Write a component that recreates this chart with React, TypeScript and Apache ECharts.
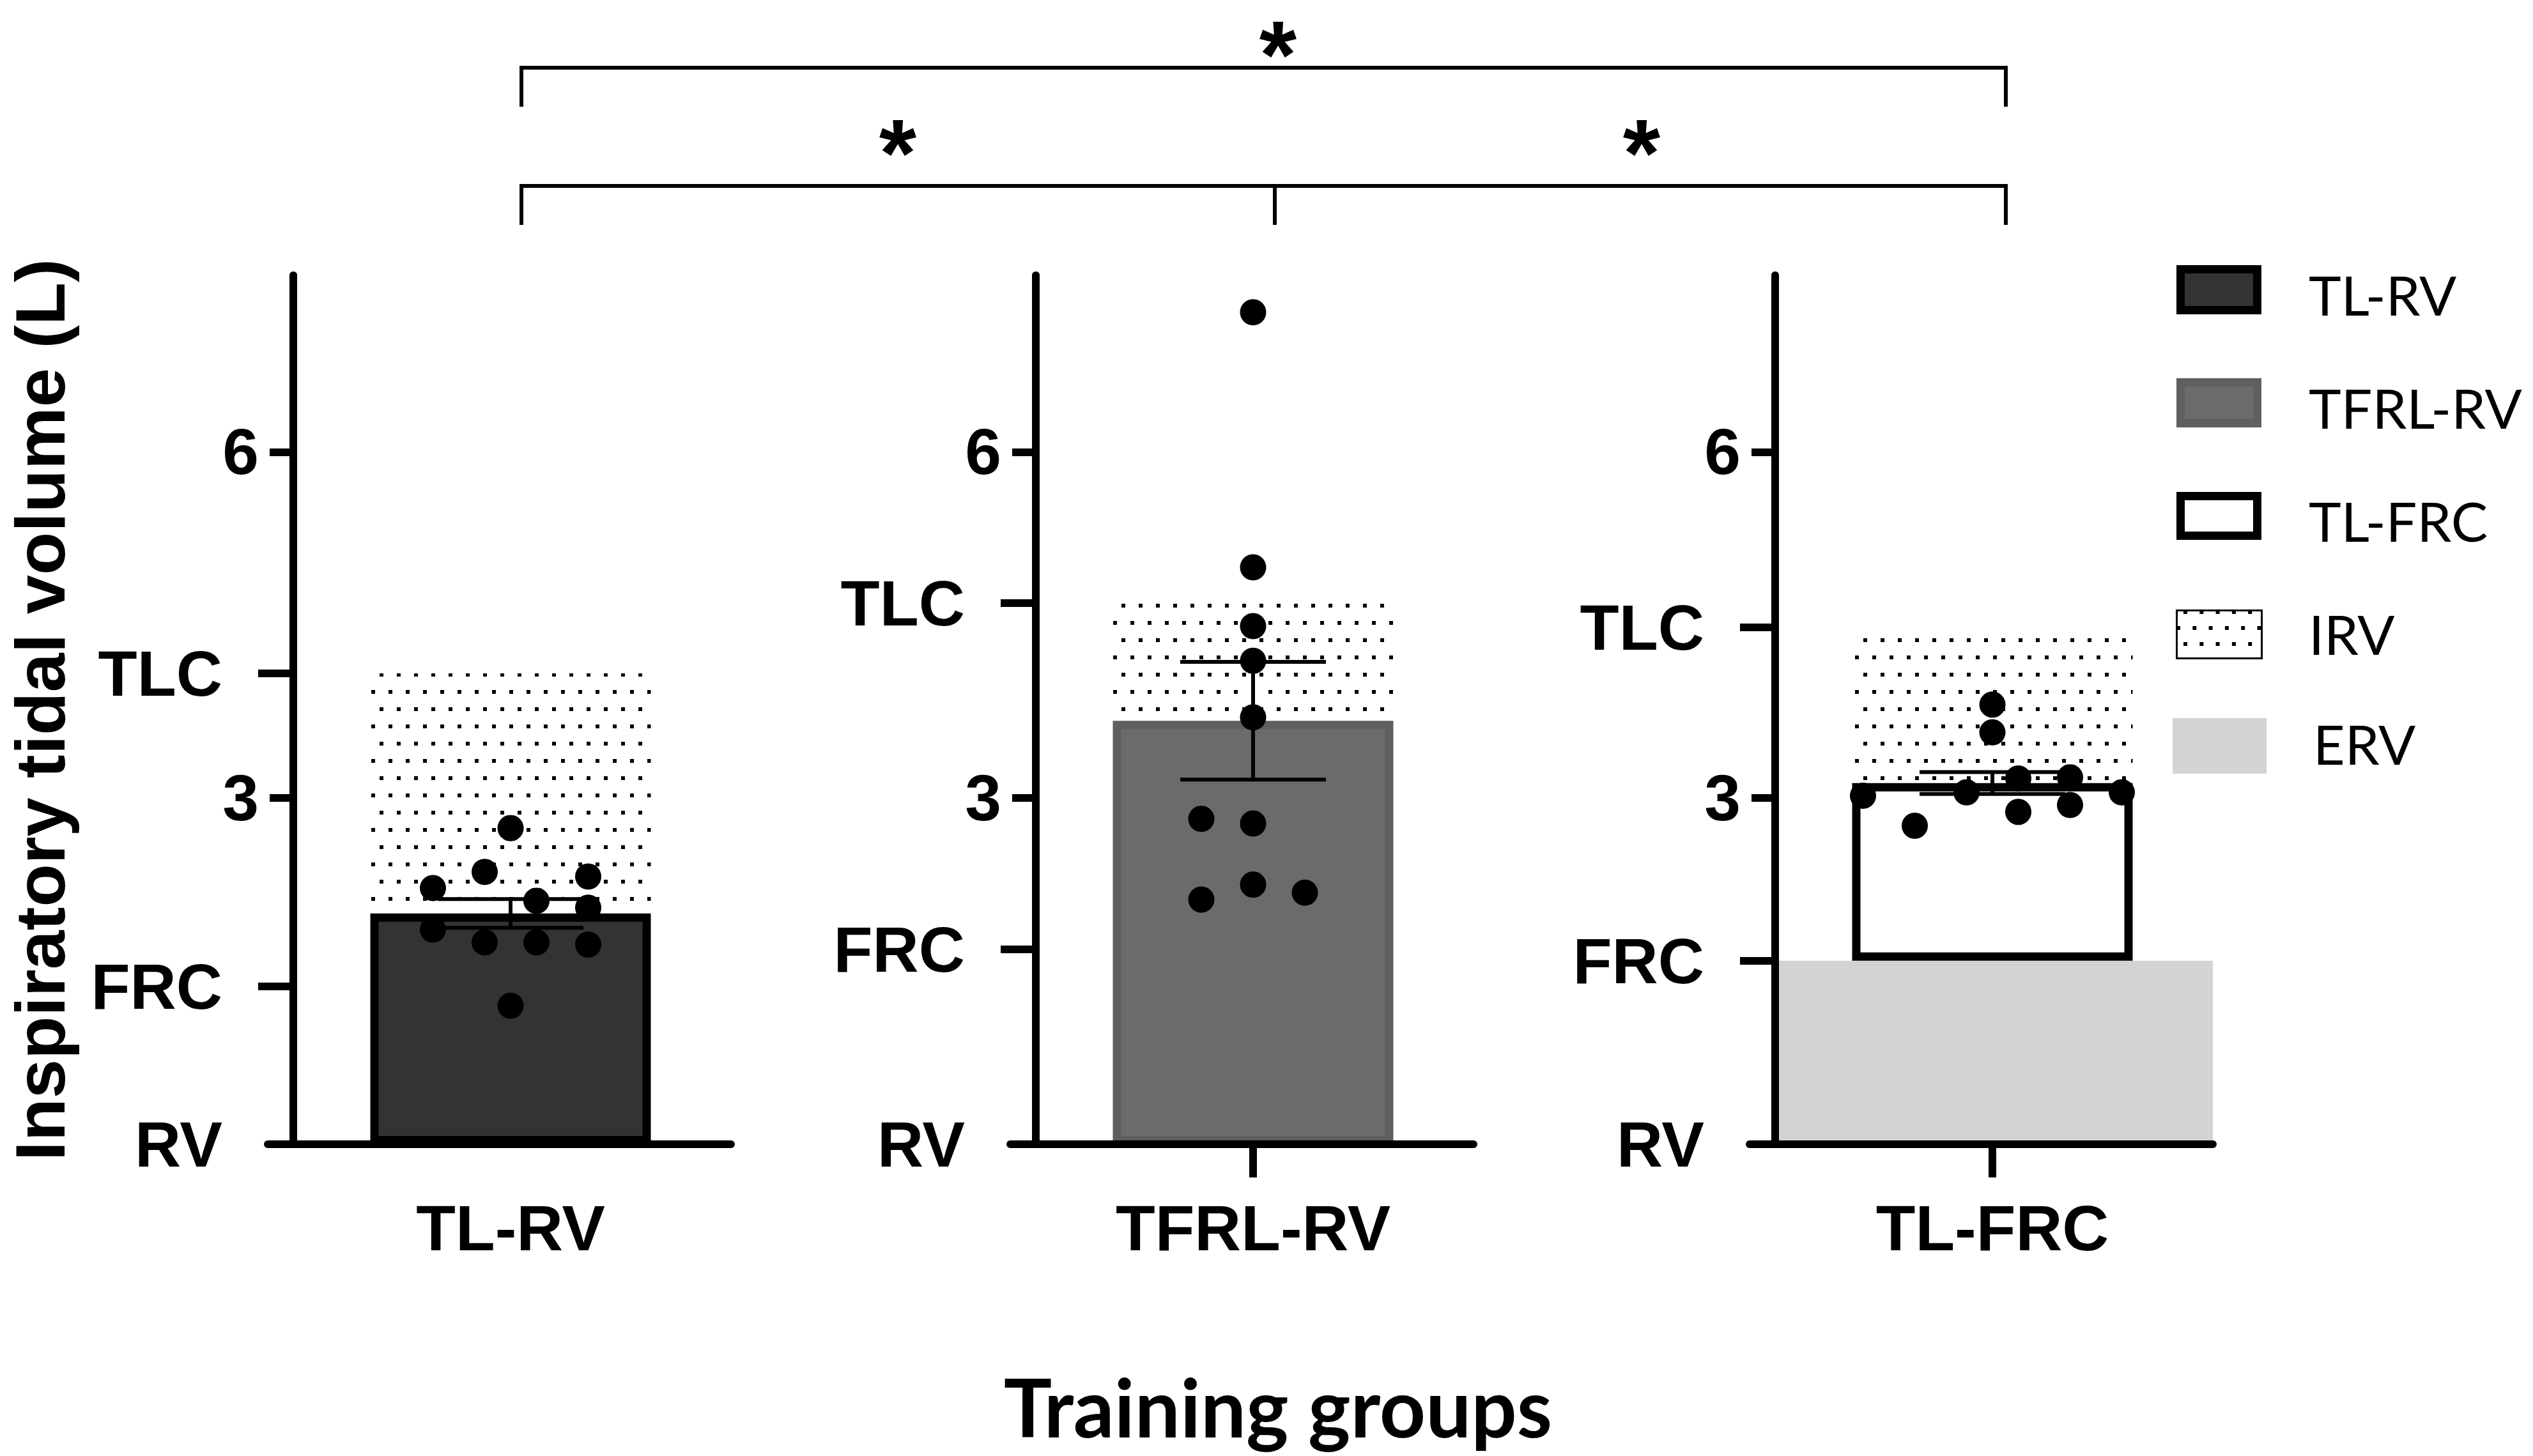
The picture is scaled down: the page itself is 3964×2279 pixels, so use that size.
import React, { useEffect, useRef } from 'react';
import * as echarts from 'echarts';

// ---------- data ----------
const groups = ['TL-RV', 'TFRL-RV', 'TL-FRC'];
const meanValues = [2.0, 3.67, 3.13];
const semValues = [0.125, 0.51, 0.095];
const tlcValues = [4.08, 4.69, 4.48];
const frcValues = [1.37, 1.69, 1.59];
const barStartValues = [0, 0, 1.59]; // TL-FRC bar floats from FRC
const pointsTLRV = [2.74, 2.36, 2.22, 2.32, 2.11, 2.05, 1.86, 1.75, 1.75, 1.73, 1.2];
const jitterTLRV = [0, -1, -3, 3, 1, 3, -3, -1, 1, 3, 0];
const pointsTFRLRV = [7.21, 5.0, 4.49, 4.19, 3.7, 2.82, 2.78, 2.25, 2.12, 2.18];
const jitterTFRLRV = [0, 0, 0, 0, 0, -2, 0, 0, -2, 2];
const pointsTLFRC = [3.81, 3.57, 3.02, 2.76, 3.05, 3.17, 2.88, 3.18, 2.94, 3.05];
const jitterTLFRC = [0, 0, -5, -3, -1, 1, 1, 3, 3, 5];
const numericTicks = [3, 6];
const volumeNames = ['RV', 'FRC', 'TLC'];
const legendNames = ['TL-RV', 'TFRL-RV', 'TL-FRC', 'IRV', 'ERV'];
const significance = ['*', '*', '*'];

const allPoints = [pointsTLRV, pointsTFRLRV, pointsTLFRC];
const allJitter = [jitterTLRV, jitterTFRLRV, jitterTLFRC];

// ---------- layout / style ----------
const W = 3964;
const H = 2279;
const AXIS_X = [459, 1621, 2778];
const PLOT_TOP = 431;
const BASE_Y = 1791;
const Y_MAX = 7.53;
const X_MIN = -40;
const X_MAX = 685;
const BAR_CENTER = 340;
const BAR_WIDTH = 439;
const BAR_GRID_W = 600;
const JITTER_STEP = 40.5;
const CAP_HALF = 114;
const ARIAL = '"Liberation Sans", Arial, sans-serif';
const CALIBRI = 'Lato, "Open Sans", sans-serif';

const barFill = ['#333333', '#6b6b6b', '#ffffff'];
const barBorder = ['#000000', '#5f5f5f', '#000000'];
const ervColor = '#d3d3d3';

const irvDecal = {
  symbol: 'rect',
  symbolSize: 1,
  color: '#000000',
  backgroundColor: 'rgba(0,0,0,0)',
  dashArrayX: [[6, 21], [0, 14, 6, 7]],
  dashArrayY: [6, 21],
  rotation: 0,
};

function buildOption() {
  const grid: any[] = [];
  const xAxis: any[] = [];
  const yAxis: any[] = [];
  const series: any[] = [];

  groups.forEach((g, p) => {
    // ---- main grid: axes, points, error bars, ERV band ----
    const gMain = grid.length;
    grid.push({
      left: AXIS_X[p] + X_MIN,
      top: PLOT_TOP,
      width: X_MAX - X_MIN,
      height: BASE_Y - PLOT_TOP,
      containLabel: false,
    });
    const xMain = xAxis.length;
    xAxis.push({
      type: 'value',
      gridIndex: gMain,
      min: X_MIN,
      max: X_MAX,
      z: 6,
      axisLine: { show: true, onZero: true, lineStyle: { color: '#000', width: 12 } },
      axisTick: {
        show: p > 0,
        customValues: [BAR_CENTER],
        length: 52,
        lineStyle: { color: '#000', width: 12 },
      },
      axisLabel: {
        show: true,
        customValues: [BAR_CENTER],
        formatter: () => g,
        margin: 131,
        verticalAlign: 'middle',
        fontSize: 101,
        fontWeight: 'bold',
        fontFamily: ARIAL,
        color: '#000',
      },
      splitLine: { show: false },
    });
    const xBand = xAxis.length;
    xAxis.push({
      type: 'value',
      gridIndex: gMain,
      min: X_MIN,
      max: X_MAX,
      show: false,
      axisLine: { onZero: false },
      splitLine: { show: false },
    });
    const yMain = yAxis.length;
    yAxis.push({
      type: 'value',
      gridIndex: gMain,
      min: 0,
      max: Y_MAX,
      position: 'left',
      z: 6,
      axisLine: { show: true, onZero: true, onZeroAxisIndex: xMain, lineStyle: { color: '#000', width: 12 } },
      axisTick: { show: true, customValues: numericTicks, length: 37, lineStyle: { color: '#000', width: 12 } },
      axisLabel: {
        show: true,
        customValues: numericTicks,
        margin: 14,
        fontSize: 102,
        fontWeight: 'bold',
        fontFamily: ARIAL,
        color: '#000',
      },
      splitLine: { show: false },
    });
    const volVals = [0, frcValues[p], tlcValues[p]];
    yAxis.push({
      type: 'value',
      gridIndex: gMain,
      min: 0,
      max: Y_MAX,
      position: 'left',
      z: 6,
      axisLine: { show: true, onZero: true, onZeroAxisIndex: xMain, lineStyle: { color: '#000', width: 12 } },
      axisTick: {
        show: true,
        customValues: [frcValues[p], tlcValues[p]],
        length: 55,
        lineStyle: { color: '#000', width: 12 },
      },
      axisLabel: {
        show: true,
        customValues: volVals,
        formatter: (v: number) => {
          let best = 0;
          volVals.forEach((vv, i) => {
            if (Math.abs(vv - v) < Math.abs(volVals[best] - v)) best = i;
          });
          return volumeNames[best];
        },
        margin: 71,
        fontSize: 100,
        fontWeight: 'bold',
        fontFamily: ARIAL,
        color: '#000',
      },
      splitLine: { show: false },
    });

    // ---- bar grid: one category centred on the bar ----
    const gBar = grid.length;
    grid.push({
      left: AXIS_X[p] + BAR_CENTER - BAR_GRID_W / 2,
      top: PLOT_TOP,
      width: BAR_GRID_W,
      height: BASE_Y - PLOT_TOP,
      containLabel: false,
    });
    const xCat = xAxis.length;
    xAxis.push({ type: 'category', gridIndex: gBar, data: [g], show: false });
    const yBar = yAxis.length;
    yAxis.push({ type: 'value', gridIndex: gBar, min: 0, max: Y_MAX, show: false, splitLine: { show: false } });

    const stack = 'stack' + p;
    if (barStartValues[p] > 0) {
      series.push({
        type: 'bar',
        name: 'base' + p,
        xAxisIndex: xCat,
        yAxisIndex: yBar,
        stack,
        barWidth: BAR_WIDTH,
        silent: true,
        data: [barStartValues[p]],
        itemStyle: { color: 'rgba(0,0,0,0)' },
        z: 2,
      });
    }
    series.push({
      type: 'bar',
      name: g,
      xAxisIndex: xCat,
      yAxisIndex: yBar,
      stack,
      barWidth: BAR_WIDTH,
      data: [meanValues[p] - barStartValues[p]],
      itemStyle: { color: barFill[p], borderColor: barBorder[p], borderWidth: 13 },
      z: 3,
    });
    series.push({
      type: 'bar',
      name: 'IRV',
      xAxisIndex: xCat,
      yAxisIndex: yBar,
      stack,
      barWidth: BAR_WIDTH,
      data: [tlcValues[p] - meanValues[p]],
      itemStyle: { color: 'rgba(255,255,255,0)', decal: irvDecal },
      z: 2,
    });
    if (p === 2) {
      series.push({
        type: 'bar',
        name: 'ERV',
        xAxisIndex: xBand,
        yAxisIndex: yMain,
        barWidth: X_MAX,
        data: [[X_MAX / 2, frcValues[p]]],
        itemStyle: { color: ervColor },
        z: 1,
      });
    }
    series.push({
      type: 'custom',
      name: 'sem' + p,
      xAxisIndex: xMain,
      yAxisIndex: yMain,
      z: 4,
      data: [[BAR_CENTER, meanValues[p], semValues[p]]],
      renderItem: (params: any, api: any) => {
        const x = api.value(0);
        const m = api.value(1);
        const s = api.value(2);
        const top = api.coord([x, m + s]);
        const bot = api.coord([x, m - s]);
        const l = api.coord([x - CAP_HALF, m]);
        const r = api.coord([x + CAP_HALF, m]);
        const st = { stroke: '#000', lineWidth: 6 };
        return {
          type: 'group',
          children: [
            { type: 'line', shape: { x1: top[0], y1: top[1], x2: bot[0], y2: bot[1] }, style: st },
            { type: 'line', shape: { x1: l[0], y1: top[1], x2: r[0], y2: top[1] }, style: st },
            { type: 'line', shape: { x1: l[0], y1: bot[1], x2: r[0], y2: bot[1] }, style: st },
          ],
        };
      },
    });
    series.push({
      type: 'scatter',
      name: 'points' + p,
      xAxisIndex: xMain,
      yAxisIndex: yMain,
      symbol: 'circle',
      symbolSize: 41,
      itemStyle: { color: '#000', opacity: 1 },
      z: 5,
      data: allPoints[p].map((v, i) => [BAR_CENTER + allJitter[p][i] * JITTER_STEP, v]),
    });
  });

  // ---------- annotations: brackets, stars, titles, legend ----------
  const lineStyle = { stroke: '#000', lineWidth: 6 };
  const bL = 816;
  const bM = 1995;
  const bR = 3139;
  const graphic: any[] = [
    { type: 'line', shape: { x1: bL, y1: 106, x2: bR, y2: 106 }, style: lineStyle },
    { type: 'line', shape: { x1: bL, y1: 103, x2: bL, y2: 167 }, style: lineStyle },
    { type: 'line', shape: { x1: bR, y1: 103, x2: bR, y2: 167 }, style: lineStyle },
    { type: 'line', shape: { x1: bL, y1: 291, x2: bR, y2: 291 }, style: lineStyle },
    { type: 'line', shape: { x1: bL, y1: 288, x2: bL, y2: 352 }, style: lineStyle },
    { type: 'line', shape: { x1: bM, y1: 288, x2: bM, y2: 352 }, style: lineStyle },
    { type: 'line', shape: { x1: bR, y1: 288, x2: bR, y2: 352 }, style: lineStyle },
  ];
  const starPos = [
    [2000, 86],
    [1405, 240],
    [2569, 240],
  ];
  starPos.forEach((sp, i) => {
    graphic.push({
      type: 'text',
      x: sp[0],
      y: sp[1],
      style: {
        text: significance[i],
        fontSize: 150,
        lineHeight: 100,
        fontWeight: 'bold',
        fontFamily: ARIAL,
        fill: '#000',
        align: 'center',
        verticalAlign: 'middle',
      },
    });
  });
  graphic.push({
    type: 'text',
    x: 62,
    y: 1111,
    rotation: Math.PI / 2,
    style: {
      text: 'Inspiratory tidal volume (L)',
      fontSize: 110,
      lineHeight: 110,
      fontWeight: 'bold',
      fontFamily: ARIAL,
      fill: '#000',
      align: 'center',
      verticalAlign: 'middle',
    },
  });
  graphic.push({
    type: 'text',
    x: 2000,
    y: 2201,
    style: {
      text: 'Training groups',
      fontSize: 126,
      fontWeight: 'bold',
      fontFamily: CALIBRI,
      fill: '#000',
      align: 'center',
      verticalAlign: 'middle',
    },
  });

  // legend swatches
  const sw = [
    { x: 3406, y: 415, w: 133, h: 77, fill: barFill[0], stroke: barBorder[0], lw: 13 },
    { x: 3406, y: 592, w: 133, h: 77, fill: barFill[1], stroke: barBorder[1], lw: 13 },
    { x: 3406, y: 770, w: 133, h: 75, fill: barFill[2], stroke: barBorder[2], lw: 13 },
    { x: 3405, y: 954, w: 136, h: 78, fill: '#ffffff', stroke: '#000000', lw: 3 },
    { x: 3400, y: 1124, w: 147, h: 87, fill: ervColor, stroke: null, lw: 0 },
  ];
  const legendTextY = [460, 637, 814, 991, 1163];
  sw.forEach((s, i) => {
    graphic.push({
      type: 'rect',
      shape: { x: s.x + s.lw / 2, y: s.y + s.lw / 2, width: s.w - s.lw, height: s.h - s.lw },
      style: { fill: s.fill, stroke: s.stroke || 'none', lineWidth: s.lw },
    });
    graphic.push({
      type: 'text',
      x: i === 4 ? 3620 : 3613,
      y: legendTextY[i],
      style: {
        text: legendNames[i],
        fontSize: 86,
        fontFamily: CALIBRI,
        fill: '#000',
        align: 'left',
        verticalAlign: 'middle',
      },
    });
  });
  // dotted pattern inside the IRV legend swatch
  const irv = sw[3];
  for (let r = 0; r < 3; r++) {
    const cy = irv.y + 4 + r * 25;
    for (let cx = r % 2 === 0 ? irv.x + 15 : irv.x + 4; cx < irv.x + irv.w - 5; cx += 25.3) {
      graphic.push({
        type: 'rect',
        shape: { x: cx - 3, y: cy - 3, width: 6, height: 6 },
        style: { fill: '#000' },
      });
    }
  }

  return {
    animation: false,
    backgroundColor: '#ffffff',
    grid,
    xAxis,
    yAxis,
    series,
    graphic,
  };
}

export default function App() {
  const ref = useRef<HTMLDivElement>(null);
  useEffect(() => {
    document.body.style.margin = '0';
    if (!ref.current) return;
    const chart = echarts.init(ref.current, null, { renderer: 'svg' });
    chart.setOption(buildOption() as any);
    return () => chart.dispose();
  }, []);
  return <div ref={ref} style={{ width: W, height: H, background: '#fff' }} />;
}
